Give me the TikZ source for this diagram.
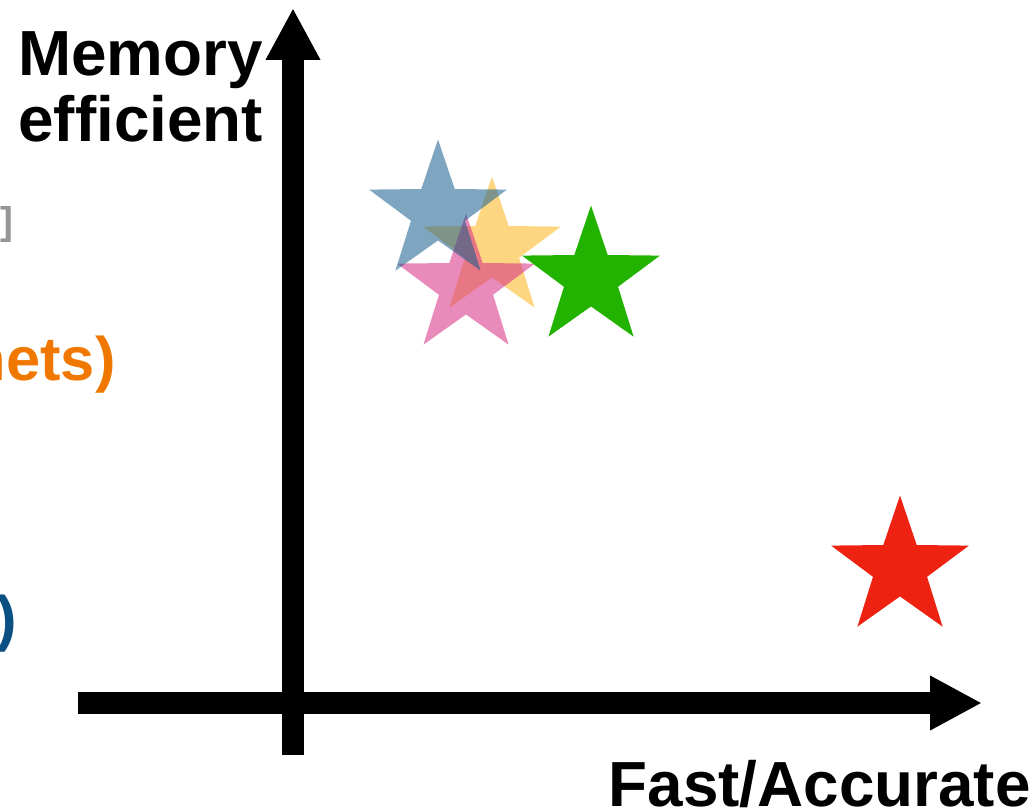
\documentclass[tikz,border=0pt]{standalone}
\usepackage{fontspec}
\setmainfont{Liberation Sans}
\usepackage{xcolor}
\usetikzlibrary{positioning,shapes.geometric,arrows.meta}

\definecolor{methodblue}{RGB}{22,93,142}
\definecolor{methodyellow}{RGB}{253,180,28}
\definecolor{methodpink}{RGB}{213,42,130}
\definecolor{methodgreen}{RGB}{34,178,0}
\definecolor{methodred}{RGB}{238,34,17}
\definecolor{textorange}{RGB}{240,120,0}
\definecolor{textblue}{RGB}{10,80,130}
\definecolor{textgray}{RGB}{150,150,150}

\tikzset{
  axis/.style={line width=12.5pt},
  axis text/.style={inner sep=0pt, font=\fontsize{36.3}{37.5}\selectfont\bfseries},
  side text/.style={inner sep=0pt, anchor=base east, font=\fontsize{35}{37.5}\selectfont\bfseries},
  every method/.style={star, star points=5, star point ratio=2.55, inner sep=0pt,
    minimum size=2.9cm}
}

\begin{document}
\begin{tikzpicture}[x=0.02cm, y=-0.02cm, >={Triangle[length=1.04cm, width=1.02cm]}]
    \useasboundingbox (0,0) rectangle (1033,811);

    % axes
    \coordinate (x-start) at (78,703);
    \coordinate (x-end) at (982,703);
    \coordinate (y-start) at (293,755);
    \coordinate (y-end) at (293,8);
    \draw [axis, ->] (x-start) -- (x-end);
    \draw [axis, ->] (y-start) -- (y-end);

    % base of a two-line node is the baseline of its last line
    \node [axis text, anchor=base west, align=left] (y-label) at (18,141) {Memory\\efficient};
    \node [axis text, anchor=base east] (x-label) at (1031,806) {Fast/Accurate};

    % text running in from the left
    \node [side text, text=textgray, font=\fontsize{22}{24}\selectfont\bfseries] (cite) at (14,234) {]};
    \node [side text, text=textorange] (nets) at (116,380) {nets)};
    \node [side text, text=textblue] (paren) at (17,639) {)};

    % methods, drawn back to front
    \foreach \m/\col/\op/\x/\y in {yellow/methodyellow/0.55/492/249,
                                   pink/methodpink/0.55/466/286,
                                   blue/methodblue/0.55/438/212,
                                   green/methodgreen/1/591/278,
                                   red/methodred/1/900/568}
      \node [every method, fill=\col, fill opacity=\op] (method-\m) at (\x,\y) {};
\end{tikzpicture}
\end{document}
